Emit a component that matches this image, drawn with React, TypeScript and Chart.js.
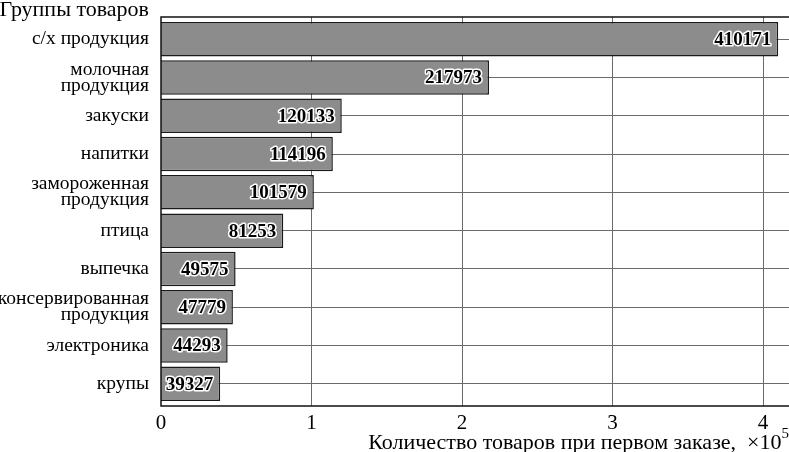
import React, { useEffect, useRef } from 'react';
import { Chart, registerables } from 'chart.js';

Chart.register(...registerables);

const categories: string[][] = [
  ['с/х продукция'],
  ['молочная', 'продукция'],
  ['закуски'],
  ['напитки'],
  ['замороженная', 'продукция'],
  ['птица'],
  ['выпечка'],
  ['консервированная', 'продукция'],
  ['электроника'],
  ['крупы'],
];
const values = [410171, 217973, 120133, 114196, 101579, 81253, 49575, 47779, 44293, 39327];
const xTickValues = [0, 100000, 200000, 300000, 400000];
const xTickLabels = ['0', '1', '2', '3', '4'];
const xMax = 420000;
const yTitle = 'Группы товаров';
const xTitle = 'Количество товаров при первом заказе,  ×10';
const xTitleExp = '5';

const SERIF = '"Liberation Serif", "Times New Roman", serif';
const GRID = '#6a6a6a';

export default function App() {
  const ref = useRef<HTMLCanvasElement | null>(null);

  useEffect(() => {
    const canvas = ref.current;
    if (!canvas) return;

    const decor = {
      id: 'decor',
      beforeDatasetsDraw(chart: any) {
        const { ctx, chartArea } = chart;
        const xs = chart.scales.x;
        ctx.save();
        ctx.strokeStyle = GRID;
        ctx.lineWidth = 1;
        xTickValues.forEach((v) => {
          if (v === 0) return;
          const px = Math.round(xs.getPixelForValue(v)) + 0.5;
          ctx.beginPath();
          ctx.moveTo(px, chartArea.top - 3);
          ctx.lineTo(px, chartArea.bottom + 3);
          ctx.stroke();
        });
        ctx.restore();
      },
      afterDatasetsDraw(chart: any) {
        const { ctx, chartArea } = chart;
        const meta = chart.getDatasetMeta(0);
        ctx.save();
        ctx.strokeStyle = '#111';
        ctx.lineWidth = 1.5;
        ctx.beginPath();
        ctx.moveTo(chartArea.right + 5, chartArea.top - 3);
        ctx.lineTo(chartArea.left, chartArea.top - 3);
        ctx.lineTo(chartArea.left, chartArea.bottom + 3);
        ctx.lineTo(chartArea.right + 5, chartArea.bottom + 3);
        ctx.stroke();
        ctx.font = 'bold 19px ' + SERIF;
        ctx.textAlign = 'right';
        ctx.textBaseline = 'middle';
        ctx.lineJoin = 'round';
        meta.data.forEach((bar: any, i: number) => {
          const t = String(values[i]);
          ctx.lineWidth = 3;
          ctx.strokeStyle = '#ffffff';
          ctx.strokeText(t, bar.x - 7, bar.y + 1);
          ctx.fillStyle = '#000000';
          ctx.fillText(t, bar.x - 7, bar.y + 1);
        });
        ctx.restore();
      },
      afterDraw(chart: any) {
        const { ctx } = chart;
        ctx.save();
        ctx.fillStyle = '#000';
        ctx.textBaseline = 'alphabetic';
        ctx.font = '22px ' + SERIF;
        ctx.textAlign = 'right';
        ctx.fillText(yTitle, 149, 16);
        ctx.font = '15px ' + SERIF;
        const expW = ctx.measureText(xTitleExp).width;
        const right = 789;
        ctx.fillText(xTitleExp, right, 438);
        ctx.font = '22px ' + SERIF;
        ctx.fillText(xTitle, right - expW, 449);
        ctx.restore();
      },
    };

    const chart = new Chart(canvas, {
      type: 'bar',
      data: {
        labels: categories,
        datasets: [
          {
            data: values,
            backgroundColor: '#8c8c8c',
            borderColor: '#1a1a1a',
            borderWidth: 1.5,
            barPercentage: 0.9,
            categoryPercentage: 1,
          },
        ],
      },
      options: {
        indexAxis: 'y',
        responsive: false,
        animation: false,
        layout: { padding: { top: 20, right: 0, left: 0, bottom: 0 } },
        plugins: { legend: { display: false }, tooltip: { enabled: false } },
        scales: {
          x: {
            type: 'linear',
            min: 0,
            max: xMax,
            position: 'bottom',
            grid: { display: false, drawTicks: false },
            border: { display: false },
            ticks: {
              color: '#000',
              padding: 8,
              maxRotation: 0,
              font: { family: SERIF, size: 21 },
              callback: (v: any) => {
                const idx = xTickValues.indexOf(Number(v));
                return idx >= 0 ? xTickLabels[idx] : '';
              },
            },
            afterBuildTicks: (scale: any) => {
              scale.ticks = xTickValues.map((v) => ({ value: v }));
            },
            afterFit: (scale: any) => {
              scale.height = 49;
            },
          },
          y: {
            type: 'category',
            grid: { offset: false, color: GRID, lineWidth: 1, drawTicks: false },
            border: { display: false },
            ticks: {
              color: '#000',
              padding: 12,
              autoSkip: false,
              font: { family: SERIF, size: 19.5, lineHeight: 0.82 },
            },
            afterFit: (scale: any) => {
              scale.width = 161;
            },
          },
        },
      },
      plugins: [decor],
    } as any);

    return () => chart.destroy();
  }, []);

  return (
    <div style={{ position: 'absolute', left: 0, top: 0, width: 789, height: 452, overflow: 'hidden', background: '#fff' }}>
      <canvas ref={ref} width={793} height={452} style={{ display: 'block' }} />
    </div>
  );
}
